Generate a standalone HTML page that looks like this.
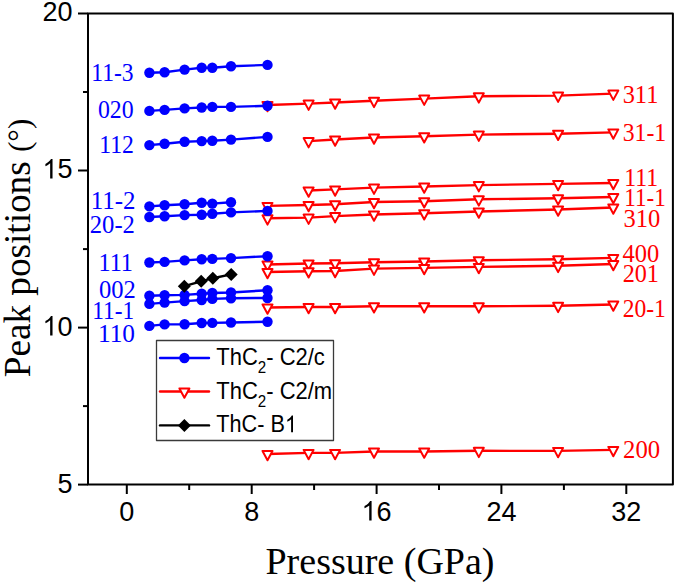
<!DOCTYPE html><html><head><meta charset="utf-8"><style>html,body{margin:0;padding:0;background:#fff;overflow:hidden}svg{display:block}</style></head><body>
<svg width="675" height="583" viewBox="0 0 675 583">
<rect width="675" height="583" fill="#fff"/>
<polyline fill="none" stroke="#ff0000" stroke-width="2.4" stroke-linejoin="round" stroke-linecap="round" points="267.5,105.0 308.6,103.6 335.1,102.5 374.0,100.8 424.2,98.6 478.8,96.3 558.1,95.6 613.3,93.6"/>
<polyline fill="none" stroke="#ff0000" stroke-width="2.4" stroke-linejoin="round" stroke-linecap="round" points="308.6,141.1 335.1,139.5 374.0,137.5 424.2,136.2 478.8,134.6 558.1,133.7 613.3,132.4"/>
<polyline fill="none" stroke="#ff0000" stroke-width="2.4" stroke-linejoin="round" stroke-linecap="round" points="308.6,190.5 335.1,189.4 374.0,187.6 424.2,186.5 478.8,185.1 558.1,183.9 613.3,183.0"/>
<polyline fill="none" stroke="#ff0000" stroke-width="2.4" stroke-linejoin="round" stroke-linecap="round" points="267.5,205.9 308.6,205.0 335.1,204.2 374.0,202.0 424.2,201.2 478.8,199.3 558.1,198.3 613.3,197.0"/>
<polyline fill="none" stroke="#ff0000" stroke-width="2.4" stroke-linejoin="round" stroke-linecap="round" points="267.5,218.3 308.6,217.6 335.1,216.1 374.0,214.5 424.2,213.2 478.8,211.5 558.1,209.5 613.3,207.5"/>
<polyline fill="none" stroke="#ff0000" stroke-width="2.4" stroke-linejoin="round" stroke-linecap="round" points="267.5,264.5 308.6,263.5 335.1,263.2 374.0,262.2 424.2,261.5 478.8,260.2 558.1,259.3 613.3,257.9"/>
<polyline fill="none" stroke="#ff0000" stroke-width="2.4" stroke-linejoin="round" stroke-linecap="round" points="267.5,272.0 308.6,271.2 335.1,271.0 374.0,268.6 424.2,267.9 478.8,266.9 558.1,265.8 613.3,264.0"/>
<polyline fill="none" stroke="#ff0000" stroke-width="2.4" stroke-linejoin="round" stroke-linecap="round" points="267.5,307.5 308.6,307.0 335.1,307.0 374.0,306.2 424.2,306.2 478.8,306.3 558.1,305.8 613.3,304.5"/>
<polyline fill="none" stroke="#ff0000" stroke-width="2.4" stroke-linejoin="round" stroke-linecap="round" points="267.5,454.0 308.6,452.9 335.1,452.9 374.0,451.5 424.2,451.5 478.8,450.8 558.1,450.9 613.3,449.9"/>
<g fill="#fff" stroke="#ff0000" stroke-width="2" stroke-linejoin="round">
<path d="M262.50 102.00H272.50L267.50 111.30Z"/>
<path d="M303.60 100.60H313.60L308.60 109.90Z"/>
<path d="M330.10 99.50H340.10L335.10 108.80Z"/>
<path d="M369.00 97.80H379.00L374.00 107.10Z"/>
<path d="M419.20 95.60H429.20L424.20 104.90Z"/>
<path d="M473.80 93.30H483.80L478.80 102.60Z"/>
<path d="M553.10 92.60H563.10L558.10 101.90Z"/>
<path d="M608.30 90.60H618.30L613.30 99.90Z"/>
<path d="M303.60 138.10H313.60L308.60 147.40Z"/>
<path d="M330.10 136.50H340.10L335.10 145.80Z"/>
<path d="M369.00 134.50H379.00L374.00 143.80Z"/>
<path d="M419.20 133.20H429.20L424.20 142.50Z"/>
<path d="M473.80 131.60H483.80L478.80 140.90Z"/>
<path d="M553.10 130.70H563.10L558.10 140.00Z"/>
<path d="M608.30 129.40H618.30L613.30 138.70Z"/>
<path d="M303.60 187.50H313.60L308.60 196.80Z"/>
<path d="M330.10 186.40H340.10L335.10 195.70Z"/>
<path d="M369.00 184.60H379.00L374.00 193.90Z"/>
<path d="M419.20 183.50H429.20L424.20 192.80Z"/>
<path d="M473.80 182.10H483.80L478.80 191.40Z"/>
<path d="M553.10 180.90H563.10L558.10 190.20Z"/>
<path d="M608.30 180.00H618.30L613.30 189.30Z"/>
<path d="M262.50 202.90H272.50L267.50 212.20Z"/>
<path d="M303.60 202.00H313.60L308.60 211.30Z"/>
<path d="M330.10 201.20H340.10L335.10 210.50Z"/>
<path d="M369.00 199.00H379.00L374.00 208.30Z"/>
<path d="M419.20 198.20H429.20L424.20 207.50Z"/>
<path d="M473.80 196.30H483.80L478.80 205.60Z"/>
<path d="M553.10 195.30H563.10L558.10 204.60Z"/>
<path d="M608.30 194.00H618.30L613.30 203.30Z"/>
<path d="M262.50 215.30H272.50L267.50 224.60Z"/>
<path d="M303.60 214.60H313.60L308.60 223.90Z"/>
<path d="M330.10 213.10H340.10L335.10 222.40Z"/>
<path d="M369.00 211.50H379.00L374.00 220.80Z"/>
<path d="M419.20 210.20H429.20L424.20 219.50Z"/>
<path d="M473.80 208.50H483.80L478.80 217.80Z"/>
<path d="M553.10 206.50H563.10L558.10 215.80Z"/>
<path d="M608.30 204.50H618.30L613.30 213.80Z"/>
<path d="M262.50 261.50H272.50L267.50 270.80Z"/>
<path d="M303.60 260.50H313.60L308.60 269.80Z"/>
<path d="M330.10 260.20H340.10L335.10 269.50Z"/>
<path d="M369.00 259.20H379.00L374.00 268.50Z"/>
<path d="M419.20 258.50H429.20L424.20 267.80Z"/>
<path d="M473.80 257.20H483.80L478.80 266.50Z"/>
<path d="M553.10 256.30H563.10L558.10 265.60Z"/>
<path d="M608.30 254.90H618.30L613.30 264.20Z"/>
<path d="M262.50 269.00H272.50L267.50 278.30Z"/>
<path d="M303.60 268.20H313.60L308.60 277.50Z"/>
<path d="M330.10 268.00H340.10L335.10 277.30Z"/>
<path d="M369.00 265.60H379.00L374.00 274.90Z"/>
<path d="M419.20 264.90H429.20L424.20 274.20Z"/>
<path d="M473.80 263.90H483.80L478.80 273.20Z"/>
<path d="M553.10 262.80H563.10L558.10 272.10Z"/>
<path d="M608.30 261.00H618.30L613.30 270.30Z"/>
<path d="M262.50 304.50H272.50L267.50 313.80Z"/>
<path d="M303.60 304.00H313.60L308.60 313.30Z"/>
<path d="M330.10 304.00H340.10L335.10 313.30Z"/>
<path d="M369.00 303.20H379.00L374.00 312.50Z"/>
<path d="M419.20 303.20H429.20L424.20 312.50Z"/>
<path d="M473.80 303.30H483.80L478.80 312.60Z"/>
<path d="M553.10 302.80H563.10L558.10 312.10Z"/>
<path d="M608.30 301.50H618.30L613.30 310.80Z"/>
<path d="M262.50 451.00H272.50L267.50 460.30Z"/>
<path d="M303.60 449.90H313.60L308.60 459.20Z"/>
<path d="M330.10 449.90H340.10L335.10 459.20Z"/>
<path d="M369.00 448.50H379.00L374.00 457.80Z"/>
<path d="M419.20 448.50H429.20L424.20 457.80Z"/>
<path d="M473.80 447.80H483.80L478.80 457.10Z"/>
<path d="M553.10 447.90H563.10L558.10 457.20Z"/>
<path d="M608.30 446.90H618.30L613.30 456.20Z"/>
</g>
<polyline fill="none" stroke="#0000ff" stroke-width="2.4" stroke-linejoin="round" stroke-linecap="round" points="149.4,72.7 164.6,72.2 184.6,69.6 201.7,67.8 212.3,67.8 231.0,66.3 267.5,64.9"/>
<polyline fill="none" stroke="#0000ff" stroke-width="2.4" stroke-linejoin="round" stroke-linecap="round" points="149.4,110.9 164.6,109.9 184.6,108.4 201.7,107.5 212.3,106.9 231.0,106.9 267.5,105.8"/>
<polyline fill="none" stroke="#0000ff" stroke-width="2.4" stroke-linejoin="round" stroke-linecap="round" points="149.4,145.1 164.6,143.8 184.6,141.8 201.7,141.1 212.3,140.7 231.0,139.6 267.5,136.9"/>
<polyline fill="none" stroke="#0000ff" stroke-width="2.4" stroke-linejoin="round" stroke-linecap="round" points="149.4,206.4 164.6,205.3 184.6,204.2 201.7,202.8 212.3,203.6 231.0,202.2"/>
<polyline fill="none" stroke="#0000ff" stroke-width="2.4" stroke-linejoin="round" stroke-linecap="round" points="149.4,217.0 164.6,216.3 184.6,215.1 201.7,214.7 212.3,213.8 231.0,212.4 267.5,210.9"/>
<polyline fill="none" stroke="#0000ff" stroke-width="2.4" stroke-linejoin="round" stroke-linecap="round" points="149.4,262.5 164.6,261.9 184.6,260.4 201.7,259.3 212.3,258.9 231.0,258.1 267.5,256.2"/>
<polyline fill="none" stroke="#0000ff" stroke-width="2.4" stroke-linejoin="round" stroke-linecap="round" points="149.4,295.8 164.6,295.2 184.6,294.9 201.7,293.7 212.3,293.0 231.0,292.5 267.5,290.2"/>
<polyline fill="none" stroke="#0000ff" stroke-width="2.4" stroke-linejoin="round" stroke-linecap="round" points="149.4,303.9 164.6,302.6 184.6,301.1 201.7,300.0 212.3,298.9 231.0,298.2 267.5,298.0"/>
<polyline fill="none" stroke="#0000ff" stroke-width="2.4" stroke-linejoin="round" stroke-linecap="round" points="149.4,325.9 164.6,324.4 184.6,324.3 201.7,323.0 212.3,322.9 231.0,322.5 267.5,321.7"/>
<g fill="#0000ff">
<circle cx="149.4" cy="72.7" r="5.2"/>
<circle cx="164.6" cy="72.2" r="5.2"/>
<circle cx="184.6" cy="69.6" r="5.2"/>
<circle cx="201.7" cy="67.8" r="5.2"/>
<circle cx="212.3" cy="67.8" r="5.2"/>
<circle cx="231.0" cy="66.3" r="5.2"/>
<circle cx="267.5" cy="64.9" r="5.2"/>
<circle cx="149.4" cy="110.9" r="5.2"/>
<circle cx="164.6" cy="109.9" r="5.2"/>
<circle cx="184.6" cy="108.4" r="5.2"/>
<circle cx="201.7" cy="107.5" r="5.2"/>
<circle cx="212.3" cy="106.9" r="5.2"/>
<circle cx="231.0" cy="106.9" r="5.2"/>
<circle cx="267.5" cy="105.8" r="5.2"/>
<circle cx="149.4" cy="145.1" r="5.2"/>
<circle cx="164.6" cy="143.8" r="5.2"/>
<circle cx="184.6" cy="141.8" r="5.2"/>
<circle cx="201.7" cy="141.1" r="5.2"/>
<circle cx="212.3" cy="140.7" r="5.2"/>
<circle cx="231.0" cy="139.6" r="5.2"/>
<circle cx="267.5" cy="136.9" r="5.2"/>
<circle cx="149.4" cy="206.4" r="5.2"/>
<circle cx="164.6" cy="205.3" r="5.2"/>
<circle cx="184.6" cy="204.2" r="5.2"/>
<circle cx="201.7" cy="202.8" r="5.2"/>
<circle cx="212.3" cy="203.6" r="5.2"/>
<circle cx="231.0" cy="202.2" r="5.2"/>
<circle cx="149.4" cy="217.0" r="5.2"/>
<circle cx="164.6" cy="216.3" r="5.2"/>
<circle cx="184.6" cy="215.1" r="5.2"/>
<circle cx="201.7" cy="214.7" r="5.2"/>
<circle cx="212.3" cy="213.8" r="5.2"/>
<circle cx="231.0" cy="212.4" r="5.2"/>
<circle cx="267.5" cy="210.9" r="5.2"/>
<circle cx="149.4" cy="262.5" r="5.2"/>
<circle cx="164.6" cy="261.9" r="5.2"/>
<circle cx="184.6" cy="260.4" r="5.2"/>
<circle cx="201.7" cy="259.3" r="5.2"/>
<circle cx="212.3" cy="258.9" r="5.2"/>
<circle cx="231.0" cy="258.1" r="5.2"/>
<circle cx="267.5" cy="256.2" r="5.2"/>
<circle cx="149.4" cy="295.8" r="5.2"/>
<circle cx="164.6" cy="295.2" r="5.2"/>
<circle cx="184.6" cy="294.9" r="5.2"/>
<circle cx="201.7" cy="293.7" r="5.2"/>
<circle cx="212.3" cy="293.0" r="5.2"/>
<circle cx="231.0" cy="292.5" r="5.2"/>
<circle cx="267.5" cy="290.2" r="5.2"/>
<circle cx="149.4" cy="303.9" r="5.2"/>
<circle cx="164.6" cy="302.6" r="5.2"/>
<circle cx="184.6" cy="301.1" r="5.2"/>
<circle cx="201.7" cy="300.0" r="5.2"/>
<circle cx="212.3" cy="298.9" r="5.2"/>
<circle cx="231.0" cy="298.2" r="5.2"/>
<circle cx="267.5" cy="298.0" r="5.2"/>
<circle cx="149.4" cy="325.9" r="5.2"/>
<circle cx="164.6" cy="324.4" r="5.2"/>
<circle cx="184.6" cy="324.3" r="5.2"/>
<circle cx="201.7" cy="323.0" r="5.2"/>
<circle cx="212.3" cy="322.9" r="5.2"/>
<circle cx="231.0" cy="322.5" r="5.2"/>
<circle cx="267.5" cy="321.7" r="5.2"/>
</g>
<polyline fill="none" stroke="#000" stroke-width="2.4" stroke-linejoin="round" stroke-linecap="round" points="184.3,286.2 201.2,281.3 212.8,278.2 231.2,274.4"/>
<g fill="#000">
<path d="M184.3 279.7l6.5 6.5l-6.5 6.5l-6.5 -6.5z"/>
<path d="M201.2 274.8l6.5 6.5l-6.5 6.5l-6.5 -6.5z"/>
<path d="M212.8 271.7l6.5 6.5l-6.5 6.5l-6.5 -6.5z"/>
<path d="M231.2 267.9l6.5 6.5l-6.5 6.5l-6.5 -6.5z"/>
</g>
<g font-family="Liberation Serif, serif" font-size="25" fill="#0000ff">
<text transform="matrix(0.942 0 0 1 91.28 80.55)">11-3</text>
<text transform="matrix(0.952 0 0 1 97.90 118.35)">020</text>
<text transform="matrix(0.948 0 0 1 99.26 152.95)">112</text>
<text transform="matrix(0.998 0 0 1 90.66 208.55)">11-2</text>
<text transform="matrix(0.986 0 0 1 89.77 232.65)">20-2</text>
<text transform="matrix(0.969 0 0 1 98.42 270.55)">111</text>
<text transform="matrix(0.983 0 0 1 98.97 298.05)">002</text>
<text transform="matrix(0.932 0 0 1 92.20 318.65)">11-1</text>
<text transform="matrix(1.012 0 0 1 98.02 341.75)">110</text>
</g>
<g font-family="Liberation Serif, serif" font-size="25" fill="#ff0000">
<text transform="matrix(0.976 0 0 1 622.68 102.75)">311</text>
<text transform="matrix(0.949 0 0 1 622.71 141.45)">31-1</text>
<text transform="matrix(0.947 0 0 1 624.27 185.85)">111</text>
<text transform="matrix(0.922 0 0 1 624.32 206.45)">11-1</text>
<text transform="matrix(0.980 0 0 1 623.57 226.75)">310</text>
<text transform="matrix(0.978 0 0 1 622.56 262.45)">400</text>
<text transform="matrix(0.968 0 0 1 622.68 282.35)">201</text>
<text transform="matrix(0.942 0 0 1 622.71 316.65)">20-1</text>
<text transform="matrix(0.989 0 0 1 623.06 457.85)">200</text>
</g>
<g stroke="#000" stroke-width="2" fill="none" stroke-linejoin="round">
<path d="M88 13.5H672.9V484.6H88Z"/>
<path d="M78 13.5H88"/>
<path d="M78 170.5H88"/>
<path d="M78 327.6H88"/>
<path d="M78 484.6H88"/>
<path d="M83 92.0H88"/>
<path d="M83 249.1H88"/>
<path d="M83 406.1H88"/>
<path d="M126.8 484.6V494"/>
<path d="M251.7 484.6V494"/>
<path d="M376.6 484.6V494"/>
<path d="M501.4 484.6V494"/>
<path d="M626.3 484.6V494"/>
<path d="M189.2 484.6V490"/>
<path d="M314.1 484.6V490"/>
<path d="M439.0 484.6V490"/>
<path d="M563.9 484.6V490"/>
</g>
<g font-family="Liberation Sans, sans-serif" font-size="27" fill="#000">
<text x="72.5" y="21.4" text-anchor="end">20</text>
<path transform="matrix(0.01318 0 0 -0.01318 42.47 178.44)" d="M763 0H583V1147Q518 1085 412 1023Q307 961 223 930V1104Q374 1175 487 1276Q600 1377 647 1472H763Z"/>
<text x="72.5" y="178.4" text-anchor="end">5</text>
<path transform="matrix(0.01318 0 0 -0.01318 42.47 335.47)" d="M763 0H583V1147Q518 1085 412 1023Q307 961 223 930V1104Q374 1175 487 1276Q600 1377 647 1472H763Z"/>
<text x="72.5" y="335.5" text-anchor="end">0</text>
<text x="72.5" y="492.5" text-anchor="end">5</text>
<text x="126.8" y="520.5" text-anchor="middle">0</text>
<text x="251.7" y="520.5" text-anchor="middle">8</text>
<path transform="matrix(0.01318 0 0 -0.01318 361.54 520.50)" d="M763 0H583V1147Q518 1085 412 1023Q307 961 223 930V1104Q374 1175 487 1276Q600 1377 647 1472H763Z"/>
<text x="376.56" y="520.5">6</text>
<text x="501.4" y="520.5" text-anchor="middle">24</text>
<text x="626.3" y="520.5" text-anchor="middle">32</text>
</g>
<text x="380" y="573.7" font-family="Liberation Serif, serif" font-size="38" text-anchor="middle">Pressure (GPa)</text>
<text transform="translate(30 377.3) rotate(-90) scale(0.979 1)" font-family="Liberation Serif, serif" font-size="38">Peak positions <tspan font-size="32">(°)</tspan></text>
<rect x="156.5" y="340.5" width="177" height="100" fill="#fff" stroke="#3a3a3a" stroke-width="1.3" stroke-linejoin="round"/>
<path d="M160 358H209" stroke="#0000ff" stroke-width="2.4" stroke-linecap="round"/>
<circle cx="184.4" cy="358" r="5.2" fill="#0000ff"/>
<path d="M160 391.5H209" stroke="#ff0000" stroke-width="2.4" stroke-linecap="round"/>
<g fill="#fff" stroke="#ff0000" stroke-width="2" stroke-linejoin="round"><path d="M179.40 388.50H189.40L184.40 397.80Z"/></g>
<path d="M160 425.4H209" stroke="#000" stroke-width="2.4" stroke-linecap="round"/>
<path d="M184.4 418.9l6.5 6.5l-6.5 6.5l-6.5 -6.5z" fill="#000"/>
<g font-family="Liberation Sans, sans-serif" font-size="23.3" fill="#000">
<text transform="matrix(0.9442 0 0 1 216.3 365.3)">ThC<tspan font-size="16" dy="7.6">2</tspan><tspan dy="-7.6">- C2/c</tspan></text>
<text transform="matrix(0.9442 0 0 1 216.3 398.9)">ThC<tspan font-size="16" dy="7.6">2</tspan><tspan dy="-7.6">- C2/m</tspan></text>
<text transform="matrix(0.9300 0 0 1 216.3 432.3)">ThC- B</text>
<path transform="matrix(0.01058 0 0 -0.01138 284.93 432.30)" d="M763 0H583V1147Q518 1085 412 1023Q307 961 223 930V1104Q374 1175 487 1276Q600 1377 647 1472H763Z"/>
</g>
</svg></body></html>
